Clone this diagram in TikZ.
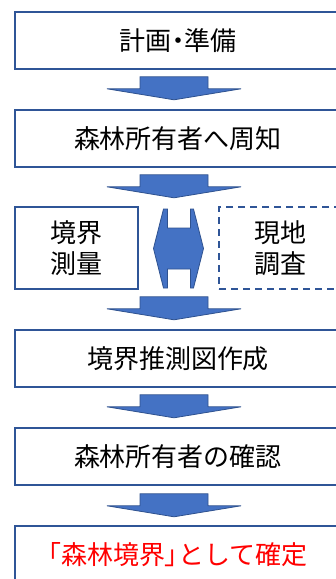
\documentclass[tikz,border=0pt]{standalone}
\usepackage{fontspec}
\setmainfont{Noto Sans CJK JP}
\newfontfamily\paltfont[RawFeature=+palt]{Noto Sans CJK JP}
\usetikzlibrary{calc}
\definecolor{bordblue}{RGB}{47,85,151}
\definecolor{fillblue}{RGB}{68,114,196}
\definecolor{arrline}{RGB}{47,82,143}
\tikzset{
  stepbox/.style={draw=bordblue,line width=1.6pt,fill=white,minimum width=326pt,minimum height=57pt,inner sep=0pt,font=\fontsize{26}{31}\selectfont},
  sidebox/.style={draw=bordblue,line width=1.6pt,fill=white,minimum height=82pt,inner sep=0pt,align=center,font=\fontsize{26}{31}\selectfont},
  blockarrow/.style={fill=fillblue,draw=arrline,line width=0.8pt,line join=miter}
}
\newcommand{\mydownarrow}[1]{%
  \path[blockarrow] (#1) ++(-34pt,0) -- ++(68pt,0) -- ++(0,-12pt) -- ++(33pt,0) -- ($(#1)+(0,-23pt)$) -- ($(#1)+(-67pt,-12pt)$) -- ($(#1)+(-34pt,-12pt)$) -- cycle;}
\begin{document}
\begin{tikzpicture}[x=1pt,y=-1pt]
\useasboundingbox (0,0) rectangle (336,579);
\clip (0,0) rectangle (336,579);
\node[stepbox] (b1) at (178,40.5) {計画{\paltfont ・}準備};
\node[stepbox] (b2) at (178,138.5) {森林所有者へ周知};
\node[sidebox,minimum width=123pt] (sl) at (76.5,248) {境界\\測量};
\node[sidebox,minimum width=122pt,dash pattern=on 7pt off 5pt] (sr) at (280,248) {現地\\調査};
\node[stepbox] (b4) at (178,358.5) {境界推測図作成};
\node[stepbox] (b5) at (178,456.5) {森林所有者の確認};
\node[stepbox,text=red] (b6) at (178,554.5) {{\paltfont 「}森林境界{\paltfont 」}として確定};
\coordinate (a1) at ([xshift=-4pt,yshift=-7pt]b1.south);
\coordinate (a2) at ([xshift=-4pt,yshift=-7pt]b2.south);
\coordinate (a3) at ([yshift=-7pt]sl.south -| a2);
\coordinate (a4) at ([xshift=-4pt,yshift=-7pt]b4.south);
\coordinate (a5) at ([xshift=-4pt,yshift=-8pt]b5.south);
\mydownarrow{a1}
\mydownarrow{a2}
\mydownarrow{a3}
\mydownarrow{a4}
\mydownarrow{a5}
\coordinate (dc) at ($(sl.east)!0.5!(sr.west)+(0,0.5)$);
\path[blockarrow] ($(dc)+(-25,0)$) -- ($(dc)+(-15,-39.5)$) -- ($(dc)+(-11,-39.5)$) -- ($(dc)+(-11,-20.5)$) -- ($(dc)+(12,-20.5)$) -- ($(dc)+(12,-39.5)$) -- ($(dc)+(15,-39.5)$) -- ($(dc)+(25,0)$) -- ($(dc)+(15,39.5)$) -- ($(dc)+(12,39.5)$) -- ($(dc)+(12,20.5)$) -- ($(dc)+(-11,20.5)$) -- ($(dc)+(-11,39.5)$) -- ($(dc)+(-15,39.5)$) -- cycle;
\end{tikzpicture}
\end{document}
